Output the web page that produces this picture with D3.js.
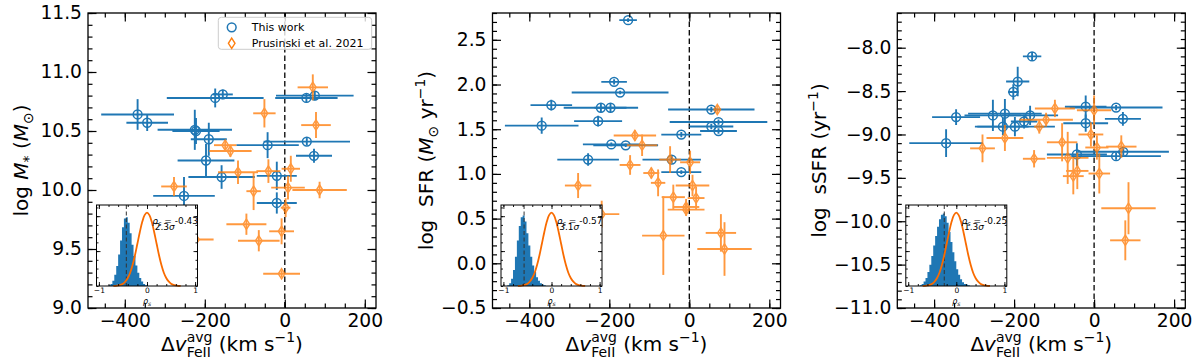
<!DOCTYPE html>
<html>
<head>
<meta charset="utf-8">
<script src="https://cdn.jsdelivr.net/npm/d3@7"></script>
<style>
body{margin:0;background:#fff}
svg text{font-family:"DejaVu Sans",sans-serif;white-space:pre}
</style>
</head>
<body>
<div id="chart"></div>
<script>
// rows are [dv, dvErr, value, valueErr]
const massThisWork = [
  [-368, 91, 10.64, 0.13], [-344, 52, 10.57, 0.07], [-174, 121, 10.78, 0.08],
  [-155, 25, 10.81, 0.04], [-225, 93, 10.51, 0.17], [-222, 59, 10.50, 0.11],
  [-190, 45, 10.43, 0.14], [-197, 71, 10.25, 0.14], [-158, 83, 10.11, 0.10],
  [-252, 77, 9.95, 0.16], [-43, 78, 10.38, 0.11], [-20, 50, 10.12, 0.12],
  [-20, 50, 9.89, 0.09], [55, 108, 10.41, 0.03], [73, 45, 10.29, 0.06],
  [54, 78, 10.78, 0.04], [75, 97, 10.80, 0.04]
];
const massPrusinski = [
  [70, 38, 10.87, 0.11], [-51, 28, 10.65, 0.12], [78, 37, 10.55, 0.11],
  [-149, 28, 10.38, 0.04], [-136, 53, 10.33, 0.05], [-117, 50, 10.15, 0.10],
  [-41, 30, 10.16, 0.10], [15, 23, 10.18, 0.11], [-277, 32, 10.03, 0.08],
  [-78, 18, 9.99, 0.16], [8, 42, 10.02, 0.10], [87, 68, 10.00, 0.07],
  [2, 12, 9.85, 0.08], [-96, 50, 9.71, 0.09], [-8, 31, 9.65, 0.11],
  [-65, 52, 9.57, 0.09], [-222, 44, 9.58, 0.03], [-8, 46, 9.29, 0.03]
];
const sfrThisWork = [
  [-153, 22, 2.72, 0.02], [-188, 32, 2.03, 0.03], [-173, 121, 1.91, 0.02],
  [-345, 52, 1.77, 0.06], [-221, 93, 1.74, 0.05], [-197, 40, 1.74, 0.05],
  [-228, 60, 1.59, 0.06], [-369, 92, 1.54, 0.09], [-195, 71, 1.33, 0.02],
  [-159, 81, 1.32, 0.02], [-253, 77, 1.16, 0.07], [-44, 73, 1.16, 0.04],
  [-20, 50, 1.44, 0.03], [-20, 50, 1.02, 0.02], [55, 108, 1.72, 0.03],
  [73, 122, 1.58, 0.03], [55, 55, 1.53, 0.03], [73, 46, 1.48, 0.03]
];
const sfrPrusinski = [
  [-136, 53, 1.43, 0.06], [-118, 38, 1.32, 0.12], [-148, 26, 1.10, 0.11],
  [-95, 20, 1.01, 0.06], [-78, 18, 0.90, 0.15], [-48, 27, 1.16, 0.15],
  [2, 25, 1.13, 0.13], [8, 42, 0.87, 0.12], [-278, 33, 0.87, 0.14],
  [-40, 29, 0.74, 0.14], [17, 21, 0.73, 0.13], [-8, 33, 0.63, 0.09],
  [-8, 46, 0.60, 0.07], [-219, 44, 0.55, 0.15], [-65, 53, 0.31, 0.44],
  [79, 38, 0.34, 0.21], [88, 68, 0.16, 0.30], [70, 8, 1.72, 0.05]
];
const ssfrThisWork = [
  [-345, 60, -8.80, 0.09], [-370, 92, -9.10, 0.16], [-253, 71, -8.78, 0.18],
  [-228, 64, -8.91, 0.10], [-223, 92, -8.76, 0.17], [-198, 100, -8.91, 0.11],
  [-175, 33, -8.85, 0.08], [-160, 70, -8.78, 0.11], [-202, 13, -8.51, 0.09],
  [-191, 29, -8.39, 0.17], [-155, 23, -8.10, 0.05], [-43, 75, -9.23, 0.13],
  [-21, 56, -8.87, 0.10], [-21, 52, -8.68, 0.13], [55, 116, -8.69, 0.03],
  [72, 45, -8.82, 0.08], [55, 112, -9.25, 0.04], [73, 114, -9.20, 0.04]
];
const ssfrPrusinski = [
  [-98, 50, -8.70, 0.10], [-120, 67, -8.83, 0.08], [-137, 13, -8.91, 0.08],
  [-223, 46, -9.04, 0.15], [-279, 31, -9.16, 0.16], [-150, 28, -9.28, 0.10],
  [-80, 38, -9.09, 0.22], [-66, 52, -9.27, 0.30], [-52, 26, -9.48, 0.21],
  [-42, 28, -9.42, 0.21], [-8, 31, -9.00, 0.14], [0, 43, -8.72, 0.17],
  [7, 29, -9.15, 0.14], [13, 27, -9.45, 0.23], [68, 38, -9.14, 0.13],
  [86, 68, -9.85, 0.30], [78, 38, -10.22, 0.23]
];

// inset: bootstrapped spearman rho histograms (bin width 0.04) and null curve
const histBinWidth = 0.04;
const massRhoStart = -0.80;
const massRhoHist = [0.02,0.06,0.15,0.32,0.57,0.90,1.30,1.68,1.93,1.97,1.81,1.51,1.18,0.86,0.59,0.38,0.23,0.13,0.06,0.02];
const sfrRhoStart = -0.92;
const sfrRhoHist = [0.02,0.08,0.21,0.46,0.84,1.30,1.72,1.97,2.02,1.85,1.51,1.16,0.84,0.59,0.40,0.25,0.15,0.08,0.04,0.02];
const ssfrRhoStart = -0.76;
const ssfrRhoHist = [0.02,0.06,0.13,0.23,0.40,0.61,0.86,1.16,1.43,1.70,1.91,2.04,2.08,2.00,1.81,1.55,1.26,0.97,0.71,0.48,0.32,0.19,0.11,0.06,0.04,0.02];
const nullRho = [-0.7,-0.65,-0.6,-0.55,-0.5,-0.45,-0.4,-0.35,-0.3,-0.25,-0.2,-0.15,-0.1,-0.05,0,
                 0.05,0.1,0.15,0.2,0.25,0.3,0.35,0.4,0.45,0.5,0.55,0.6,0.65,0.7];
const nullDensity = [0.002,0.006,0.015,0.03,0.065,0.13,0.23,0.38,0.60,0.88,1.21,1.54,1.83,2.03,2.10,
                     2.03,1.83,1.54,1.21,0.88,0.60,0.38,0.23,0.13,0.065,0.03,0.015,0.006,0.002];
const rhoValues = [-0.43, -0.57, -0.25];
const sigmaValues = ["2.3", "3.1", "1.3"];

const dvDomain = [-492, 228];
const legendLabels = ["This work", "Prusinski et al. 2021"];

const blue = "#1f77b4", orange = "#ff7f0e", curveColor = "#f96b00";
const W = 288, H = 295, TOP = 13;
const lefts = [88, 492.5, 897.3];

var svg = d3.select("#chart").append("svg")
    .attr("width", 1200).attr("height", 363);

function richText(parent, pieces, tx, ty, rot){
    var outer = parent.append("g")
        .attr("transform", "translate(" + tx + "," + ty + ") rotate(" + rot + ")");
    var g = outer.append("g");
    var cx = 0, prevStart = 0;
    pieces.forEach(function(p){
        var sx = p.stack ? prevStart : cx;
        var t = g.append("text").attr("x", sx).attr("y", p.dy || 0)
            .attr("font-size", p.size || 20)
            .attr("font-style", p.italic ? "italic" : null)
            .text(p.t);
        var w = t.node().getComputedTextLength();
        if (p.stack) { cx = Math.max(cx, sx + w); }
        else { prevStart = sx; cx = sx + w; }
    });
    g.attr("transform", "translate(" + (-cx / 2) + ",0)");
}

function stepsOf(lo, hi, step){
    var a = Math.ceil(lo / step - 1e-9), b = Math.floor(hi / step + 1e-9);
    return d3.range(a, b + 1).map(function(i){ return +(i * step).toFixed(3); });
}

function styleAxis(sel, w){
    sel.select(".domain").remove();
    sel.selectAll(".tick line").attr("stroke", "#000").attr("stroke-width", w);
}

function drawTicks(g, x, y, w, h, xMaj, xMin, yMaj, yMin, lenMaj, lenMin, sw, fontSize, xFmt, yFmt, pad){
    // minor
    g.append("g").attr("transform", "translate(0," + h + ")")
        .call(d3.axisBottom(x).tickValues(xMin).tickSizeInner(-lenMin).tickSizeOuter(0).tickFormat(""))
        .call(styleAxis, sw);
    g.append("g")
        .call(d3.axisTop(x).tickValues(xMin).tickSizeInner(-lenMin).tickSizeOuter(0).tickFormat(""))
        .call(styleAxis, sw);
    g.append("g")
        .call(d3.axisLeft(y).tickValues(yMin).tickSizeInner(-lenMin).tickSizeOuter(0).tickFormat(""))
        .call(styleAxis, sw);
    g.append("g").attr("transform", "translate(" + w + ",0)")
        .call(d3.axisRight(y).tickValues(yMin).tickSizeInner(-lenMin).tickSizeOuter(0).tickFormat(""))
        .call(styleAxis, sw);
    // major
    var bx = g.append("g").attr("transform", "translate(0," + h + ")")
        .call(d3.axisBottom(x).tickValues(xMaj).tickSizeInner(-lenMaj).tickSizeOuter(0)
            .tickPadding(pad).tickFormat(xFmt))
        .call(styleAxis, sw);
    g.append("g")
        .call(d3.axisTop(x).tickValues(xMaj).tickSizeInner(-lenMaj).tickSizeOuter(0).tickFormat(""))
        .call(styleAxis, sw);
    var ly = g.append("g")
        .call(d3.axisLeft(y).tickValues(yMaj).tickSizeInner(-lenMaj).tickSizeOuter(0)
            .tickPadding(pad).tickFormat(yFmt || ""))
        .call(styleAxis, sw);
    g.append("g").attr("transform", "translate(" + w + ",0)")
        .call(d3.axisRight(y).tickValues(yMaj).tickSizeInner(-lenMaj).tickSizeOuter(0).tickFormat(""))
        .call(styleAxis, sw);
    [bx, ly].forEach(function(a){
        a.attr("font-family", null).attr("font-size", null);
        a.selectAll("text").attr("font-size", fontSize).attr("fill", "#000");
    });
}

function diamondPath(cx, cy){
    return "M" + cx + "," + (cy - 5.2) + "L" + (cx + 3.3) + "," + cy +
        "L" + cx + "," + (cy + 5.2) + "L" + (cx - 3.3) + "," + cy + "Z";
}

function drawPoints(g, x, y, rows, color, isDiamond, opacity){
    var grp = g.append("g").attr("opacity", opacity);
    grp.selectAll(".xe").data(rows).enter().append("line")
        .attr("x1", function(d){ return x(d[0] - d[1]); })
        .attr("x2", function(d){ return x(d[0] + d[1]); })
        .attr("y1", function(d){ return y(d[2]); })
        .attr("y2", function(d){ return y(d[2]); })
        .attr("stroke", color).attr("stroke-width", 1.9);
    grp.selectAll(".ye").data(rows).enter().append("line")
        .attr("x1", function(d){ return x(d[0]); })
        .attr("x2", function(d){ return x(d[0]); })
        .attr("y1", function(d){ return y(d[2] - d[3]); })
        .attr("y2", function(d){ return y(d[2] + d[3]); })
        .attr("stroke", color).attr("stroke-width", 1.9);
    if (isDiamond) {
        grp.selectAll(".mk").data(rows).enter().append("path")
            .attr("d", function(d){ return diamondPath(x(d[0]), y(d[2])); })
            .attr("fill", "none").attr("stroke", color).attr("stroke-width", 1.4);
    } else {
        grp.selectAll(".mk").data(rows).enter().append("circle")
            .attr("cx", function(d){ return x(d[0]); })
            .attr("cy", function(d){ return y(d[2]); })
            .attr("r", 4.4)
            .attr("fill", "none").attr("stroke", color).attr("stroke-width", 1.5);
    }
}

function drawInset(g, i, histStart, hist){
    var IW = 101, IH = 81;
    var ig = g.append("g").attr("transform", "translate(8.5," + (205 - TOP) + ")");
    var ix = d3.scaleLinear().domain([-1.05, 1.05]).range([0, IW]);
    var iy = d3.scaleLinear().domain([0, 2.32]).range([IH, 0]);
    ig.append("rect").attr("width", IW).attr("height", IH).attr("fill", "#fff");

    var pts = [];
    hist.forEach(function(h, k){
        pts.push([histStart + k * histBinWidth, h]);
        pts.push([histStart + (k + 1) * histBinWidth, h]);
    });
    ig.append("path").datum(pts)
        .attr("d", d3.area().x(function(d){ return ix(d[0]); })
            .y0(iy(0)).y1(function(d){ return iy(d[1]); }))
        .attr("fill", blue);

    ig.append("line")
        .attr("x1", ix(rhoValues[i])).attr("x2", ix(rhoValues[i]))
        .attr("y1", 0).attr("y2", IH)
        .attr("stroke", "#333").attr("stroke-width", 1).attr("stroke-dasharray", "4,2.5");

    ig.append("path").datum(d3.zip(nullRho, nullDensity))
        .attr("d", d3.line().x(function(d){ return ix(d[0]); })
            .y(function(d){ return iy(d[1]); }).curve(d3.curveCatmullRom))
        .attr("fill", "none").attr("stroke", curveColor).attr("stroke-width", 1.8);

    ig.append("rect").attr("width", IW).attr("height", IH)
        .attr("fill", "none").attr("stroke", "#000").attr("stroke-width", 1);

    drawTicks(ig, ix, iy, IW, IH, [-1, 0, 1], stepsOf(-1, 1, 0.2),
        [1, 2], stepsOf(0, 2.3, 0.25), 4, 2, 0.9, 7.5, d3.format("d"), null, 2);

    var t1 = ig.append("text").attr("x", ix(0.11)).attr("y", 18.5).attr("font-size", 9);
    t1.append("tspan").attr("font-style", "italic").text("\u03c1");
    t1.append("tspan").attr("font-style", "italic").attr("font-size", 6.5).attr("dy", 2).text("s");
    t1.append("tspan").attr("dy", -2).text(" = " + d3.format(".2f")(rhoValues[i]).replace("\u2212", "-"));
    var t2 = ig.append("text").attr("x", ix(0.16)).attr("y", 24.5).attr("font-size", 9);
    t2.append("tspan").text(sigmaValues[i]);
    t2.append("tspan").attr("font-style", "italic").text("\u03c3");

    var t3 = ig.append("text").attr("x", ix(0)).attr("y", IH + 18)
        .attr("text-anchor", "middle").attr("font-size", 8);
    t3.append("tspan").attr("font-style", "italic").text("\u03c1");
    t3.append("tspan").attr("font-style", "italic").attr("font-size", 6).attr("dy", 1.5).text("s");
}

var panels = [
    { thisWork: massThisWork, prus: massPrusinski, yDomain: [9, 11.5], labelX: 28,
      hs: massRhoStart, hist: massRhoHist,
      ylabel: [{t: "log"}, {t: " "}, {t: "M", italic: true}, {t: "*", size: 14, dy: 5},
               {t: " ("}, {t: "M", italic: true}, {t: "\u2299", size: 14, dy: 5}, {t: ")"}] },
    { thisWork: sfrThisWork, prus: sfrPrusinski, yDomain: [-0.5, 2.8], labelX: 433,
      hs: sfrRhoStart, hist: sfrRhoHist,
      ylabel: [{t: "log  SFR ("}, {t: "M", italic: true}, {t: "\u2299", size: 14, dy: 5},
               {t: " yr"}, {t: "\u22121", size: 14, dy: -8}, {t: ")"}] },
    { thisWork: ssfrThisWork, prus: ssfrPrusinski, yDomain: [-11, -7.6], labelX: 826,
      hs: ssfrRhoStart, hist: ssfrRhoHist,
      ylabel: [{t: "log  sSFR (yr"}, {t: "\u22121", size: 14, dy: -8}, {t: ")"}] }
];

panels.forEach(function(p, i){
    var g = svg.append("g").attr("transform", "translate(" + lefts[i] + "," + TOP + ")");
    var x = d3.scaleLinear().domain(dvDomain).range([0, W]);
    var y = d3.scaleLinear().domain(p.yDomain).range([H, 0]);

    g.append("clipPath").attr("id", "clip" + i)
        .append("rect").attr("width", W).attr("height", H);
    var plot = g.append("g").attr("clip-path", "url(#clip" + i + ")");

    plot.append("line").attr("x1", x(0)).attr("x2", x(0)).attr("y1", 0).attr("y2", H)
        .attr("stroke", "#000").attr("stroke-width", 1.3).attr("stroke-dasharray", "5.5,3");

    drawPoints(plot, x, y, p.thisWork, blue, false, 1);
    drawPoints(plot, x, y, p.prus, orange, true, 0.8);

    drawTicks(g, x, y, W, H, [-400, -200, 0, 200], stepsOf(dvDomain[0], dvDomain[1], 50),
        stepsOf(p.yDomain[0], p.yDomain[1], 0.5), stepsOf(p.yDomain[0], p.yDomain[1], 0.1),
        8.5, 4.5, 1.2, 18.7, d3.format("d"), d3.format(".1f"), 6);

    g.append("rect").attr("width", W).attr("height", H)
        .attr("fill", "none").attr("stroke", "#000").attr("stroke-width", 1.3);

    drawInset(g, i, p.hs, p.hist);

    richText(svg, p.ylabel, p.labelX, TOP + H / 2, -90);
    richText(svg, [{t: "\u0394"}, {t: "v", italic: true}, {t: "avg", size: 14, dy: -9},
        {t: "FeII", size: 14, dy: 6, stack: true}, {t: " (km s"}, {t: "\u22121", size: 14, dy: -9},
        {t: ")"}], lefts[i] + W / 2, 351, 0);

    if (i === 0) {
        var lg = g.append("g");
        lg.append("rect").attr("x", 130.3).attr("y", 4.3).attr("width", 153.4).attr("height", 32)
            .attr("rx", 3).attr("fill", "#fff").attr("fill-opacity", 0.8)
            .attr("stroke", "#ccc").attr("stroke-width", 1);
        lg.append("circle").attr("cx", 143.7).attr("cy", 14.3).attr("r", 4.4)
            .attr("fill", "none").attr("stroke", blue).attr("stroke-width", 1.5);
        lg.append("path").attr("d", diamondPath(143.7, 30.3))
            .attr("fill", "none").attr("stroke", orange).attr("stroke-width", 1.4);
        lg.selectAll(".lt").data(legendLabels).enter().append("text")
            .attr("x", 163.7).attr("y", function(d, k){ return 18.3 + k * 16; })
            .attr("font-size", 11).text(function(d){ return d; });
    }
});
</script>
</body>
</html>
